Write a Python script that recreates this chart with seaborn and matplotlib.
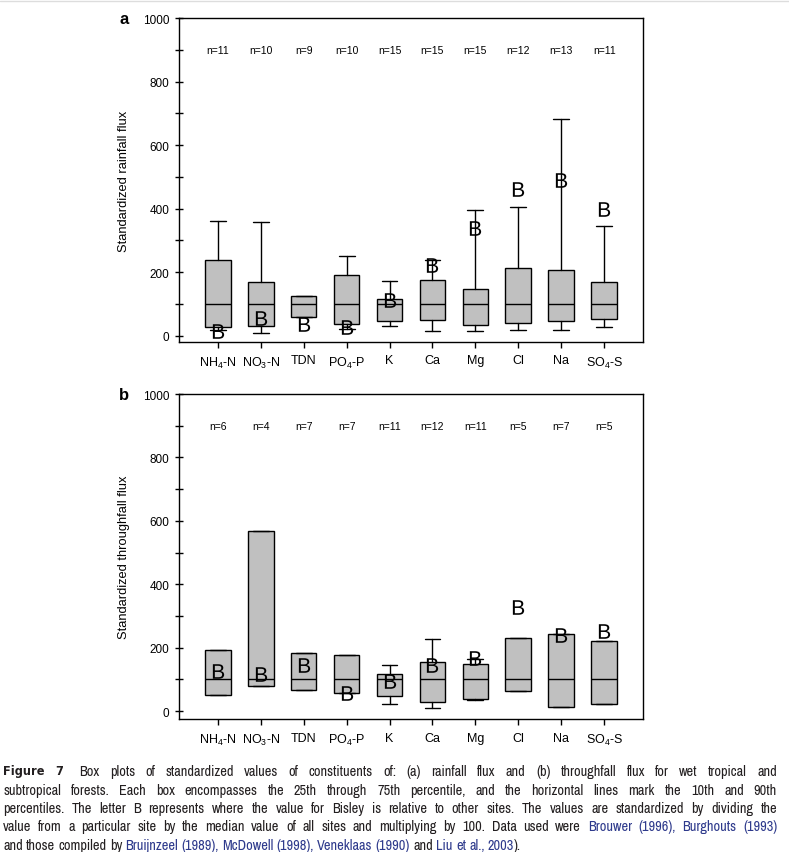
import numpy as np
import seaborn as sns
import matplotlib
matplotlib.use("Agg")
import matplotlib.pyplot as plt
from matplotlib import font_manager
from matplotlib.lines import Line2D

sns.set_theme(style="ticks")
plt.rcParams["font.family"] = ["Liberation Sans", "DejaVu Sans"]
plt.rcParams["mathtext.fontset"] = "custom"
plt.rcParams["mathtext.rm"] = "Liberation Sans"
plt.rcParams["mathtext.it"] = "Liberation Sans"
plt.rcParams["mathtext.bf"] = "Liberation Sans:bold"
plt.rcParams["mathtext.default"] = "regular"
for key in ["text.color", "axes.labelcolor", "xtick.color", "ytick.color"]:
    plt.rcParams[key] = "black"

# constituents
labels = ["NH$_4$-N", "NO$_3$-N", "TDN", "PO$_4$-P", "K",
          "Ca", "Mg", "Cl", "Na", "SO$_4$-S"]

# (a) standardized rainfall flux
rain_n = [11, 10, 9, 10, 15, 15, 15, 12, 13, 11]
rain_p10 = [18, 7, 58, 21, 30, 15, 15, 18, 18, 27]
rain_q1 = [26, 29, 58, 36, 47, 49, 34, 40, 45, 51]
rain_med = [100, 100, 100, 100, 100, 100, 100, 100, 100, 100]
rain_q3 = [238, 168, 125, 190, 114, 175, 146, 214, 206, 169]
rain_p90 = [361, 358, 125, 250, 172, 238, 395, 405, 683, 345]
rain_bisley = [16, 55, 37, 26, 113, 223, 338, 461, 490, 398]

# (b) standardized throughfall flux
thru_n = [6, 4, 7, 7, 11, 12, 11, 5, 7, 5]
thru_p10 = [51, 80, 67, 58, 21, 11, 36, 64, 14, 21]
thru_q1 = [51, 80, 67, 58, 48, 29, 38, 64, 14, 21]
thru_med = [100, 100, 100, 100, 100, 100, 100, 100, 100, 100]
thru_q3 = [194, 569, 184, 178, 116, 155, 147, 232, 242, 222]
thru_p90 = [194, 569, 184, 178, 144, 226, 163, 232, 242, 222]
thru_bisley = [125, 116, 144, 57, 95, 144, 167, 328, 240, 252]

fig = plt.figure(figsize=(7.89, 8.53), dpi=100)
fig.add_artist(Line2D([0, 1], [0.9975, 0.9975], color="#dddddd", lw=1))

ax_a = fig.add_axes([0.2269, 0.5979, 0.588, 0.3798])
ax_b = fig.add_axes([0.2269, 0.1559, 0.588, 0.381])


def draw_panel(ax, n, p10, q1, med, q3, p90, bisley, ylabel, letter, ybot):
    idx = np.arange(len(labels))
    stats = [dict(med=med[i], q1=q1[i], q3=q3[i], whislo=p10[i], whishi=p90[i],
                  fliers=[]) for i in idx]
    ax.bxp(stats, positions=idx, widths=0.6, capwidths=0.37, patch_artist=True,
           showfliers=False,
           boxprops=dict(facecolor="#c0c0c0", edgecolor="black", linewidth=1),
           medianprops=dict(color="black", linewidth=1),
           whiskerprops=dict(color="black", linewidth=1),
           capprops=dict(color="black", linewidth=1))
    sns.scatterplot(x=idx, y=bisley, marker="$\\mathrm{B}$", s=110, color="black",
                    linewidth=0, ax=ax, legend=False, zorder=5)
    for i in idx:
        ax.text(i, 900, f"n={n[i]}", ha="center", va="center", fontsize=7.5)

    ax.set_xlim(-0.9, 9.9)
    ax.set_ylim(ybot, 1000)
    ax.set_xticks(idx, labels, fontsize=9)
    ax.set_yticks([0, 200, 400, 600, 800, 1000])
    ax.set_yticks([100, 300, 500, 700, 900], minor=True)
    ax.tick_params(axis="y", which="both", direction="inout", length=6, width=1,
                   labelsize=8.5, pad=4)
    ax.tick_params(axis="x", direction="out", length=4, width=1, pad=5)
    ax.set_ylabel(ylabel, fontsize=9.3, labelpad=9)
    for s in ax.spines.values():
        s.set_visible(True)
        s.set_color("black")
        s.set_linewidth(1)
    ax.text(-0.118, 1.0, letter, transform=ax.transAxes, fontsize=12,
            fontweight="bold", ha="center", va="center")


draw_panel(ax_a, rain_n, rain_p10, rain_q1, rain_med, rain_q3, rain_p90,
           rain_bisley, "Standardized rainfall flux", "a", -20)
draw_panel(ax_b, thru_n, thru_p10, thru_q1, thru_med, thru_q3, thru_p90,
           thru_bisley, "Standardized throughfall flux", "b", -25)

# caption, laid out word by word so lines can be justified
ink = "#231f20"
blue = "#2e3a8c"
cap_lines = [
    ([("Figure 7", "b"), ("Box plots of standardized values of constituents of: (a) rainfall flux and (b) throughfall flux for wet tropical and", "k")], True),
    ([("subtropical forests. Each box encompasses the 25th through 75th percentile, and the horizontal lines mark the 10th and 90th", "k")], True),
    ([("percentiles. The letter B represents where the value for Bisley is relative to other sites. The values are standardized by dividing the", "k")], True),
    ([("value from a particular site by the median value of all sites and multiplying by 100. Data used were", "k"), ("Brouwer (1996), Burghouts (1993)", "l")], True),
    ([("and those compiled by", "k"), ("Bruijnzeel (1989), McDowell (1998), Veneklaas (1990)", "l"), ("and", "k"), ("Liu et al., 2003", "l"), (").", "k")], False),
]
line_y = [772, 791, 809, 827, 846]
x_left, x_right = 3, 777
renderer = fig.canvas.get_renderer()

# prefer a narrow family for the caption if one is installed
narrow = sorted({f.name for f in font_manager.fontManager.ttflist
                 if "Narrow" in f.name or "Condensed" in f.name})
if narrow:
    cap_kw = dict(family=narrow[0])
else:
    cap_kw = dict(family="DejaVu Sans", fontstretch="condensed")
bold_kw = dict(family="DejaVu Sans", fontstretch="condensed", fontweight="bold")


def measure(s, size):
    t = fig.text(0, 0, s, fontsize=size, **cap_kw)
    w = t.get_window_extent(renderer).width
    t.remove()
    return w


# pick the largest size where the longest line still fits with normal spaces
cap_size = 10.3
while cap_size > 6:
    longest = max(measure(" ".join(s for s, _ in segs), cap_size) for segs, _ in cap_lines)
    if longest <= x_right - x_left - 10:
        break
    cap_size -= 0.1

space_w = measure("a a", cap_size) - measure("aa", cap_size)
for (segs, justify), ypx in zip(cap_lines, line_y):
    words = []
    for seg, style in segs:
        for p in seg.split():
            words.append((p, style, p == ")."))
    items = []
    for p, style, glue in words:
        color = blue if style == "l" else ink
        if style == "b":
            t = fig.text(0, 1 - ypx / 853, p, fontsize=cap_size * 0.88, color=ink,
                         va="center", ha="left", **bold_kw)
        else:
            t = fig.text(0, 1 - ypx / 853, p, fontsize=cap_size, color=color,
                         va="center", ha="left", **cap_kw)
        items.append((t, t.get_window_extent(renderer).width, glue))
    total = sum(w for _, w, _ in items)
    extra = [0] * len(items)
    if words[0][1] == "b":
        extra[2] = space_w * 2  # wider gap after "Figure 7"
    gaps = sum(1 for _, _, g in items[1:] if not g)
    gap = (x_right - x_left - total - sum(extra)) / gaps if justify else space_w
    x = x_left
    for k, (t, w, glue) in enumerate(items):
        if k > 0:
            x += extra[k] + (0 if glue else gap)
        t.set_x(x / 789)
        x += w

fig.savefig("out.png", dpi=100)
